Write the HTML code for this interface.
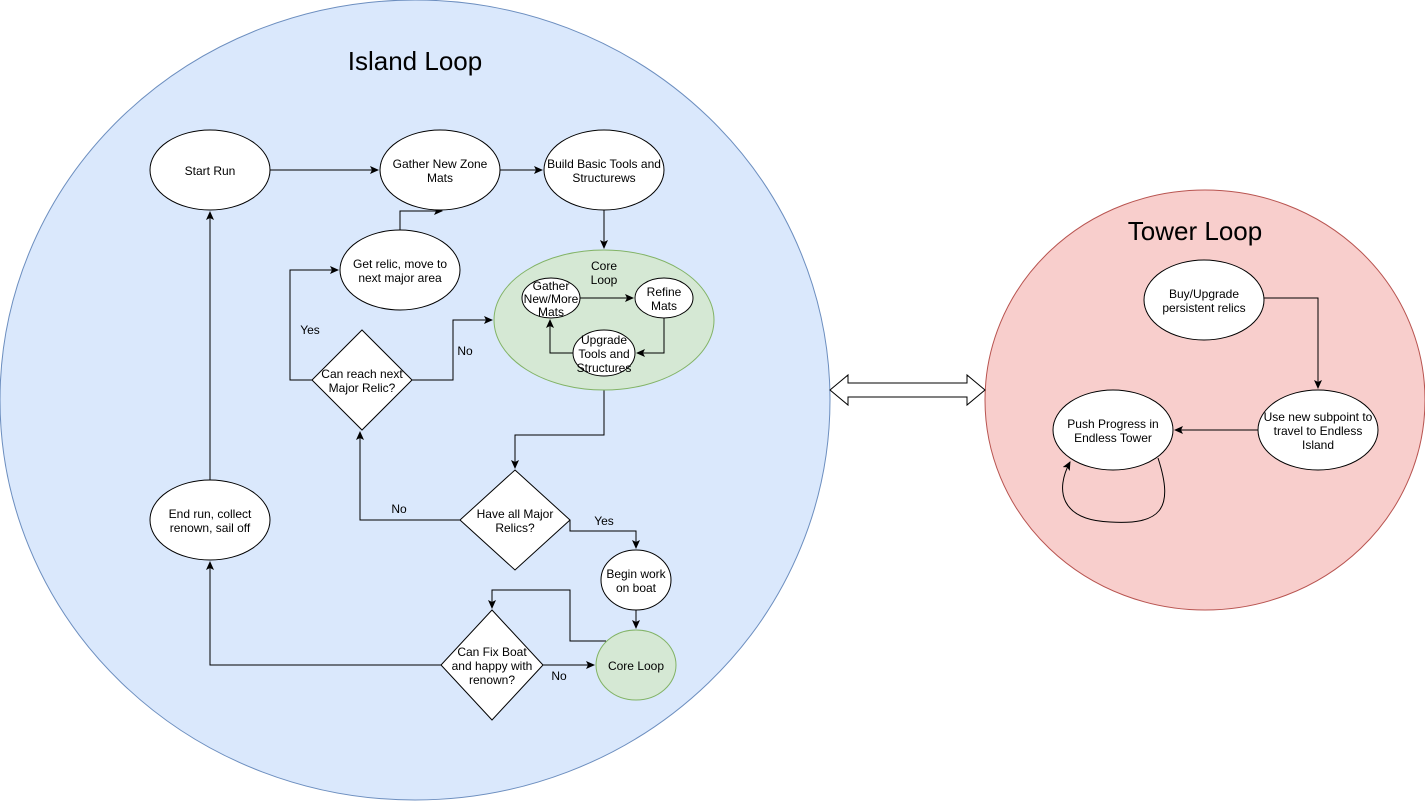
<!DOCTYPE html>
<html><head><meta charset="utf-8"><style>html,body{margin:0;padding:0;background:#fff}svg{display:block}text{font-family:"Liberation Sans",Arial,sans-serif;font-size:12px;fill:#000;text-anchor:middle}</style></head><body>
<svg width="1425" height="801" viewBox="0 0 1425 801" xmlns="http://www.w3.org/2000/svg">
<defs><marker id="a" markerWidth="10" markerHeight="10" refX="8" refY="4" orient="auto" markerUnits="userSpaceOnUse"><path d="M0,0 L9,4 L0,8 L2,4 Z" fill="#000"/></marker></defs>
<ellipse cx="415" cy="400" rx="415" ry="400" fill="#dae8fc" stroke="#6c8ebf"/>
<ellipse cx="1205" cy="400" rx="220" ry="210" fill="#f8cecc" stroke="#b85450"/>
<text x="415" y="70" style="font-size:26px">Island Loop</text>
<text x="1195" y="240" style="font-size:26px">Tower Loop</text>
<g fill="none" stroke="#000" stroke-width="1" marker-end="url(#a)">
<path d="M270,170 H378"/><path d="M500,170 H542"/><path d="M604,210 V248"/>
<path d="M400,230 V211 H442"/>
<path d="M312,380 H290 V270 H338"/>
<path d="M412,380 H453 V320 H492"/>
<path d="M604,390 V435 H515 V468"/>
<path d="M460,520 H360 V432"/>
<path d="M570,520 V531 H636 V548"/>
<path d="M636,610 V628"/>
<path d="M606,641 H570 V590 H492 V608"/>
<path d="M543,665 H594"/>
<path d="M441,665 H210 V562"/>
<path d="M210,480 V212"/>
<path d="M1264,298 H1318 V388"/>
<path d="M1258,430 H1175"/>
<path d="M1158,458 C1175,510 1160,525 1110,522 C1060,520 1055,490 1070,462"/>
</g>
<g stroke="#000" fill="#fff">
<ellipse cx="210" cy="170" rx="60" ry="40"/>
<ellipse cx="440" cy="170" rx="60" ry="40"/>
<ellipse cx="604" cy="170" rx="60" ry="40"/>
<ellipse cx="400" cy="270" rx="60" ry="40"/>
<ellipse cx="210" cy="520" rx="60" ry="40"/>
<ellipse cx="636" cy="580" rx="35" ry="30"/>
<polygon points="362,330 412,380 362,430 312,380"/>
<polygon points="515,470 570,520 515,570 460,520"/>
<polygon points="492,610 543,665 492,720 441,665"/>
<ellipse cx="1204" cy="300" rx="60" ry="40"/>
<ellipse cx="1318" cy="430" rx="60" ry="40"/>
<ellipse cx="1113" cy="430" rx="60" ry="40"/>
</g>
<ellipse cx="604" cy="320" rx="110" ry="70" fill="#d5e8d4" stroke="#82b366"/>
<ellipse cx="636" cy="665" rx="40" ry="35" fill="#d5e8d4" stroke="#82b366"/>
<g fill="none" stroke="#000" marker-end="url(#a)">
<path d="M580,298 H633"/><path d="M664,318 V353 H637"/><path d="M573,353 H550 V320"/>
</g>
<g stroke="#000" fill="#fff">
<ellipse cx="551" cy="298" rx="29" ry="20"/>
<ellipse cx="664" cy="298" rx="29" ry="20"/>
<ellipse cx="604" cy="353" rx="31" ry="23"/>
</g>
<path d="M830,390 L848,375 V383 H967 V375 L985,390 L967,405 V397 H848 V405 Z" fill="#fff" stroke="#000"/>
<text x="210" y="175">Start Run</text>
<text x="440" y="168">Gather New Zone</text><text x="440" y="182">Mats</text>
<text x="604" y="168">Build Basic Tools and</text><text x="604" y="182">Structurews</text>
<text x="400" y="268">Get relic, move to</text><text x="400" y="282">next major area</text>
<text x="604" y="270">Core</text><text x="604" y="284">Loop</text>
<text x="551" y="290">Gather</text><text x="551" y="303">New/More</text><text x="551" y="316">Mats</text>
<text x="664" y="296">Refine</text><text x="664" y="310">Mats</text>
<text x="604" y="344">Upgrade</text><text x="604" y="358">Tools and</text><text x="604" y="372">Structures</text>
<text x="362" y="378">Can reach next</text><text x="362" y="392">Major Relic?</text>
<text x="515" y="518">Have all Major</text><text x="515" y="532">Relics?</text>
<text x="210" y="518">End run, collect</text><text x="210" y="532">renown, sail off</text>
<text x="636" y="578">Begin work</text><text x="636" y="592">on boat</text>
<text x="636" y="670">Core Loop</text>
<text x="492" y="656">Can Fix Boat</text><text x="492" y="670">and happy with</text><text x="492" y="684">renown?</text>
<text x="310" y="334">Yes</text><text x="465" y="355">No</text><text x="399" y="513">No</text><text x="604" y="525">Yes</text><text x="559" y="680">No</text>
<text x="1204" y="298">Buy/Upgrade</text><text x="1204" y="312">persistent relics</text>
<text x="1318" y="421">Use new subpoint to</text><text x="1318" y="435">travel to Endless</text><text x="1318" y="449">Island</text>
<text x="1113" y="428">Push Progress in</text><text x="1113" y="442">Endless Tower</text>
</svg>
</body></html>
